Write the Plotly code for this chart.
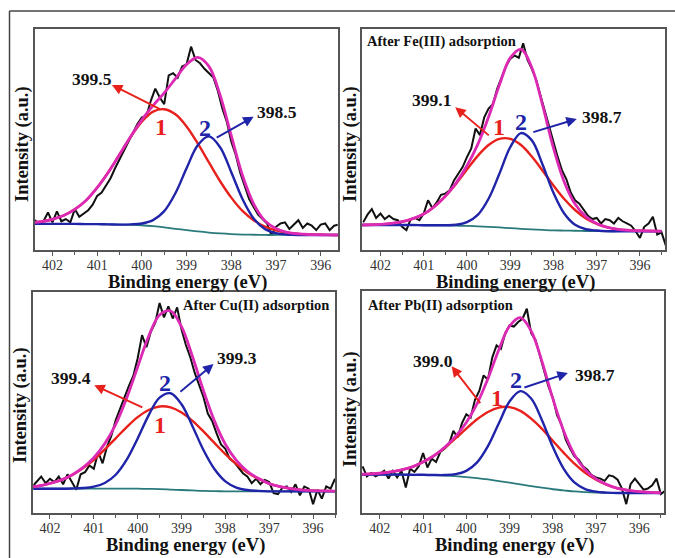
import numpy as np
import plotly.graph_objects as go

# ---------------- data ----------------
# fitted components are sampled every 0.25 eV from 402.5 to 395.5 eV
FIT_STEP = 0.25
# raw spectra are sampled every 0.1 eV starting at 402.4 eV
RAW_START = 402.4
RAW_STEP = 0.1

# pristine sample
raw_p1 = [13.5, 12.0, 13.0, 17.0, 12.5, 17.5, 13.0, 14.0, 12.5, 18.5,
          15.0, 16.5, 18.0, 20.5, 24.5, 26.0, 29.0, 32.5, 37.0, 41.0,
          45.0, 49.0, 52.5, 57.0, 60.0, 60.5, 67.5, 73.0, 69.0, 66.0,
          79.0, 80.0, 78.0, 83.0, 84.0, 92.0, 86.0, 84.5, 82.0, 80.0,
          78.0, 72.0, 64.0, 58.0, 49.0, 43.0, 35.0, 29.0, 23.0, 19.5,
          16.0, 14.0, 12.0, 6.5, 10.5, 12.0, 12.5, 9.5, 11.5, 13.5,
          10.0, 12.0, 11.0, 9.0, 11.5, 12.0, 9.0, 11.0, 11.5]
base_p1 = [11.8, 11.8, 11.8, 11.8, 11.8, 11.7, 11.7, 11.6, 11.5, 11.4,
           11.2, 10.8, 10.2, 9.6, 9.0, 8.4, 7.9, 7.5, 7.2, 7.0,
           6.9, 6.8, 6.8, 6.8, 6.8, 6.8, 6.8, 6.8, 6.8]
peak1_p1 = [0.5, 1.0, 2.1, 3.8, 6.6, 10.7, 16.5, 23.6, 31.7, 39.8,
            46.9, 51.8, 53.5, 51.8, 46.9, 39.8, 31.7, 23.6, 16.5, 10.7,
            6.6, 3.8, 2.1, 1.0, 0.5, 0.2, 0.1, 0.0, 0.0]
peak2_p1 = [0.0, 0.0, 0.0, 0.0, 0.0, 0.0, 0.0, 0.0, 0.0, 0.2,
            0.8, 2.7, 7.4, 16.1, 28.0, 39.0, 43.5, 39.0, 28.0, 16.1,
            7.4, 2.7, 0.8, 0.2, 0.0, 0.0, 0.0, 0.0, 0.0]

# after Fe(III) adsorption
raw_p2 = [12.5, 16.0, 18.5, 14.5, 16.5, 14.0, 15.5, 14.0, 13.5, 10.5,
          9.0, 14.0, 14.5, 13.5, 16.5, 22.5, 19.0, 21.5, 25.0, 25.5,
          27.0, 31.5, 34.5, 37.5, 42.0, 46.0, 55.0, 52.0, 60.0, 64.0,
          66.0, 73.0, 78.0, 83.0, 86.5, 88.0, 87.0, 93.5, 86.0, 82.0,
          77.0, 70.0, 62.0, 55.0, 48.0, 42.0, 36.0, 32.0, 26.0, 22.5,
          21.0, 18.5, 15.5, 14.0, 14.5, 12.0, 14.0, 13.5, 12.0, 14.5,
          13.0, 12.0, 11.0, 8.5, 5.5, 10.5, 12.0, 15.0, 7.0, 8.0,
          2.0]
base_p2 = [11.3, 11.3, 11.3, 11.3, 11.3, 11.3, 11.2, 11.2, 11.1, 11.0,
           10.9, 10.7, 10.5, 10.2, 9.9, 9.6, 9.3, 9.1, 8.9, 8.8,
           8.7, 8.6, 8.6, 8.5, 8.5, 8.5, 8.5, 8.5, 8.5]
peak1_p2 = [0.0, 0.1, 0.3, 0.7, 1.5, 2.9, 5.1, 8.5, 13.2, 19.0,
            25.5, 31.9, 37.0, 40.1, 40.4, 37.9, 33.0, 26.8, 20.3, 14.3,
            9.4, 5.7, 3.2, 1.7, 0.8, 0.4, 0.2, 0.1, 0.0]
peak2_p2 = [0.0, 0.0, 0.0, 0.0, 0.0, 0.0, 0.0, 0.0, 0.1, 0.4,
            1.7, 5.2, 12.7, 24.3, 36.6, 43.3, 40.3, 29.5, 17.0, 7.7,
            2.7, 0.8, 0.2, 0.0, 0.0, 0.0, 0.0, 0.0, 0.0]

# after Cu(II) adsorption
raw_p3 = [12.0, 14.5, 16.5, 13.5, 15.5, 14.0, 16.5, 13.0, 17.5, 14.0,
          10.5, 17.5, 18.5, 21.5, 20.0, 27.5, 22.5, 30.0, 35.0, 42.0,
          47.5, 52.0, 57.5, 62.0, 70.0, 80.5, 75.0, 82.0, 86.0, 95.0,
          88.5, 93.5, 88.0, 93.0, 83.0, 76.0, 70.5, 63.5, 58.0, 52.5,
          45.0, 41.5, 36.0, 31.0, 29.0, 24.5, 23.0, 20.5, 18.0, 16.5,
          13.5, 15.5, 13.0, 15.0, 14.0, 9.0, 8.5, 11.5, 12.0, 9.5,
          13.0, 8.0, 12.0, 11.0, 4.0, 10.5, 6.5, 12.0, 11.0, 15.5]
base_p3 = [11.0, 11.0, 11.0, 11.0, 11.0, 11.0, 11.0, 11.0, 11.0, 11.0,
           11.0, 10.9, 10.8, 10.6, 10.4, 10.2, 10.0, 9.9, 9.8, 9.8,
           9.8, 9.8, 9.8, 9.8, 9.8, 9.8, 9.8, 9.8, 9.8]
peak1_p3 = [0.7, 1.3, 2.4, 3.9, 6.1, 9.2, 13.1, 17.8, 22.8, 27.9,
            32.4, 35.7, 37.4, 37.2, 35.1, 31.5, 26.9, 21.8, 16.8, 12.3,
            8.5, 5.7, 3.5, 2.1, 1.2, 0.6, 0.3, 0.2, 0.1]
peak2_p3 = [0.0, 0.0, 0.0, 0.0, 0.1, 0.3, 0.9, 2.6, 6.3, 13.1,
            22.7, 33.3, 41.4, 43.6, 38.8, 29.1, 18.5, 10.0, 4.5, 1.7,
            0.6, 0.2, 0.0, 0.0, 0.0, 0.0, 0.0, 0.0, 0.0]

# after Pb(II) adsorption
raw_p4 = [21.0, 16.5, 18.0, 16.5, 17.5, 19.0, 15.5, 19.0, 16.0, 19.0,
          11.5, 20.0, 18.5, 21.0, 27.0, 20.5, 24.5, 23.0, 27.5, 29.0,
          31.0, 37.0, 34.0, 40.5, 44.5, 43.0, 51.0, 55.0, 62.0, 60.0,
          70.0, 75.5, 74.0, 81.0, 84.5, 84.0, 86.0, 87.5, 92.0, 81.0,
          78.0, 71.0, 65.0, 57.0, 52.0, 44.0, 40.0, 33.0, 29.0, 25.5,
          24.0, 21.0, 19.5, 17.0, 16.0, 15.5, 14.5, 17.0, 16.5, 15.0,
          11.0, 4.0, 13.0, 15.5, 13.0, 10.5, 11.0, 12.5, 15.5, 8.5,
          10.0]
base_p4 = [17.3, 17.3, 17.3, 17.3, 17.3, 17.2, 17.2, 17.1, 16.9, 16.6,
           16.2, 15.7, 15.1, 14.4, 13.7, 12.9, 12.1, 11.4, 10.7, 10.2,
           9.7, 9.4, 9.2, 9.1, 9.0, 9.0, 9.0, 9.0, 9.0]
peak1_p4 = [0.1, 0.3, 0.6, 1.2, 2.1, 3.6, 5.8, 8.7, 12.5, 17.0,
            21.8, 26.5, 30.4, 33.1, 34.0, 33.1, 30.4, 26.5, 21.8, 17.0,
            12.5, 8.7, 5.8, 3.6, 2.1, 1.2, 0.6, 0.3, 0.1]
peak2_p4 = [0.0, 0.0, 0.0, 0.0, 0.0, 0.0, 0.0, 0.0, 0.2, 0.9,
            2.8, 7.1, 15.0, 25.9, 36.5, 42.0, 39.5, 30.4, 19.1, 9.8,
            4.1, 1.4, 0.4, 0.1, 0.0, 0.0, 0.0, 0.0, 0.0]

# peak positions (eV) printed next to components 1 and 2
peak_pos_p1 = [399.5, 398.5]
peak_pos_p2 = [399.1, 398.7]
peak_pos_p3 = [399.4, 399.3]
peak_pos_p4 = [399.0, 398.7]

panel_titles = ["", "After Fe(III) adsorption", "After Cu(II) adsorption",
                "After Pb(II) adsorption"]
major_ticks = [402, 401, 400, 399, 398, 397, 396]

# ---------------- styling ----------------
FONT = "Liberation Serif"
C_RAW = "#111111"
C_BASE = "#2a7a7c"
C_RED = "#e8211d"
C_BLUE = "#2024a8"
C_ENV = "#dc2ab4"
C_FRAME = "#555555"

W, H = 675, 558


def px_x(p):
    return p / W


def px_y(p):
    return 1 - p / H


panels = [
    dict(raw=raw_p1, base=base_p1, pk1=peak1_p1, pk2=peak2_p1, pos=peak_pos_p1,
         xdom=[px_x(35), px_x(337.7)], ydom=[px_y(250), px_y(29)],
         xrange=[402.39, 395.62],
         lab1=(401.12, 77.4), arr1=((399.55, 63.3), (400.67, 74.7)), num1=(399.57, 55.8),
         lab2=(396.97, 62.6), arr2=((398.36, 50.5), (397.50, 60.3)), num2=(398.58, 55.2),
         title=None,
         xtitle=(px_x(187), px_y(282)), ytitle=(px_x(22), px_y(144))),
    dict(raw=raw_p2, base=base_p2, pk1=peak1_p2, pk2=peak2_p2, pos=peak_pos_p2,
         xdom=[px_x(362.3), px_x(665)], ydom=[px_y(250), px_y(29)],
         xrange=[402.42, 395.42],
         lab1=(400.83, 67.9), arr1=((399.46, 51.3), (400.27, 64.6)), num1=(399.27, 55.8),
         lab2=(396.87, 60.0), arr2=((398.50, 53.1), (397.46, 59.3)), num2=(398.74, 58.1),
         title=(402.35, 94.3, "left"),
         xtitle=(px_x(515), px_y(282)), ytitle=(px_x(350), px_y(144))),
    dict(raw=raw_p3, base=base_p3, pk1=peak1_p3, pk2=peak2_p3, pos=peak_pos_p3,
         xdom=[px_x(33.3), px_x(335)], ydom=[px_y(513), px_y(292)],
         xrange=[402.38, 395.5],
         lab1=(401.51, 61.1), arr1=((399.86, 47.5), (400.99, 57.8)), num1=(399.49, 40.0),
         lab2=(397.73, 70.1), arr2=((399.06, 54.3), (398.27, 67.4)), num2=(399.38, 58.8),
         title=(395.58, 94.0, "right"),
         xtitle=(px_x(185), px_y(545)), ytitle=(px_x(20), px_y(405))),
    dict(raw=raw_p4, base=base_p4, pk1=peak1_p4, pk2=peak2_p4, pos=peak_pos_p4,
         xdom=[px_x(361.7), px_x(664.3)], ydom=[px_y(513), px_y(291)],
         xrange=[402.42, 395.42],
         lab1=(400.78, 68.3), arr1=((399.65, 48.8), (400.34, 66.1)), num1=(399.28, 51.8),
         lab2=(397.03, 62.3), arr2=((398.69, 56.3), (397.65, 63.1)), num2=(398.84, 60.0),
         title=(402.33, 93.5, "left"),
         xtitle=(px_x(514), px_y(545)), ytitle=(px_x(350), px_y(409))),
]

fig = go.Figure()
annotations = []
layout_axes = {}

for i, p in enumerate(panels, start=1):
    sfx = "" if i == 1 else str(i)
    xref, yref = "x" + sfx, "y" + sfx

    fit_e = np.round(402.5 - FIT_STEP * np.arange(len(p["base"])), 2)
    raw_e = np.round(RAW_START - RAW_STEP * np.arange(len(p["raw"])), 2)
    base = np.array(p["base"])
    comp1 = base + np.array(p["pk1"])
    comp2 = base + np.array(p["pk2"])
    env = base + np.array(p["pk1"]) + np.array(p["pk2"])

    common = dict(xaxis=xref, yaxis=yref, mode="lines", hoverinfo="skip", showlegend=False)
    fig.add_trace(go.Scatter(x=raw_e, y=p["raw"], line=dict(color=C_RAW, width=2.0), **common))
    fig.add_trace(go.Scatter(x=fit_e, y=base, line=dict(color=C_BASE, width=1.8, shape="spline"), **common))
    fig.add_trace(go.Scatter(x=fit_e, y=comp1, line=dict(color=C_RED, width=2.4, shape="spline"), **common))
    fig.add_trace(go.Scatter(x=fit_e, y=comp2, line=dict(color=C_BLUE, width=2.4, shape="spline"), **common))
    fig.add_trace(go.Scatter(x=fit_e, y=env, line=dict(color=C_ENV, width=2.8, shape="spline"), **common))

    layout_axes["xaxis" + sfx] = dict(
        domain=p["xdom"], range=p["xrange"], anchor=yref,
        showline=True, mirror=True, linecolor=C_FRAME, linewidth=1.8,
        ticks="outside", ticklen=4, tickwidth=1.3, tickcolor=C_FRAME,
        tickvals=major_ticks, ticktext=[str(t) for t in major_ticks],
        tickfont=dict(family=FONT, size=14, color="#333333"),
        ticklabelstandoff=-3,
        minor=dict(dtick=0.5, tick0=0, ticks="outside", ticklen=3,
                   tickwidth=1.3, tickcolor=C_FRAME),
        showgrid=False, zeroline=False, fixedrange=True,
    )
    layout_axes["yaxis" + sfx] = dict(
        domain=p["ydom"], range=[0, 100], anchor=xref,
        showline=True, mirror=True, linecolor=C_FRAME, linewidth=1.8,
        ticks="", showticklabels=False, showgrid=False, zeroline=False,
        fixedrange=True,
    )

    # peak position labels with arrows
    for lab, arr, num, digit, col, pos in (
        (p["lab1"], p["arr1"], p["num1"], "1", C_RED, p["pos"][0]),
        (p["lab2"], p["arr2"], p["num2"], "2", C_BLUE, p["pos"][1]),
    ):
        annotations.append(dict(
            x=lab[0], y=lab[1], xref=xref, yref=yref, text=f"<b>{pos:.1f}</b>",
            showarrow=False, font=dict(family=FONT, size=17.5, color="#111111"),
            xanchor="center", yanchor="middle"))
        (tx, ty), (hx, hy) = arr
        annotations.append(dict(
            x=hx, y=hy, ax=tx, ay=ty, xref=xref, yref=yref, axref=xref, ayref=yref,
            text="", showarrow=True, arrowhead=2, arrowsize=1.1, arrowwidth=1.9,
            arrowcolor=col, standoff=0, startstandoff=0))
        annotations.append(dict(
            x=num[0], y=num[1], xref=xref, yref=yref, text=f"<b>{digit}</b>",
            showarrow=False, font=dict(family=FONT, size=24, color=col),
            xanchor="center", yanchor="middle"))

    if p["title"]:
        tx, ty, anc = p["title"]
        annotations.append(dict(
            x=tx, y=ty, xref=xref, yref=yref, text="<b>" + panel_titles[i - 1] + "</b>",
            showarrow=False, font=dict(family=FONT, size=14.5, color="#111111"),
            xanchor=anc, yanchor="middle"))

    annotations.append(dict(
        x=p["xtitle"][0], y=p["xtitle"][1], xref="paper", yref="paper",
        text="<b>Binding energy (eV)</b>", showarrow=False,
        font=dict(family=FONT, size=18.5, color="#111111"),
        xanchor="center", yanchor="middle"))
    annotations.append(dict(
        x=p["ytitle"][0], y=p["ytitle"][1], xref="paper", yref="paper",
        text="<b>Intensity (a.u.)</b>", showarrow=False, textangle=-90,
        font=dict(family=FONT, size=18.5, color="#111111"),
        xanchor="center", yanchor="middle"))

# outer frame (top and left edges)
shapes = [
    dict(type="line", xref="paper", yref="paper", x0=px_x(9.5), x1=1.0,
         y0=px_y(11), y1=px_y(11), line=dict(color="#444444", width=1.5)),
    dict(type="line", xref="paper", yref="paper", x0=px_x(9.5), x1=px_x(9.5),
         y0=px_y(11), y1=0.0, line=dict(color="#444444", width=1.5)),
]

fig.update_layout(
    width=W, height=H,
    margin=dict(l=0, r=0, t=0, b=0),
    paper_bgcolor="white", plot_bgcolor="white",
    showlegend=False,
    annotations=annotations,
    shapes=shapes,
    **layout_axes,
)

fig.write_html("out.html")
